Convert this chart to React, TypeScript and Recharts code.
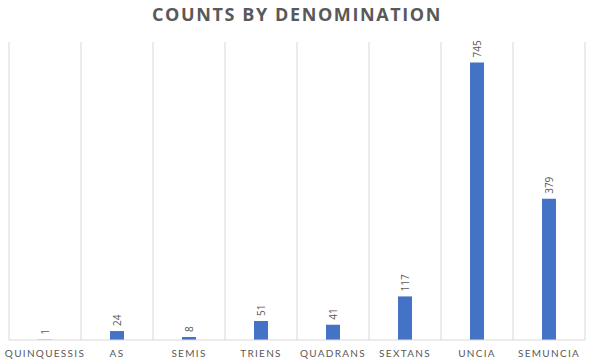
import React from "react";
import { BarChart, Bar, XAxis, YAxis, CartesianGrid, LabelList } from "recharts";

const categories = ["QUINQUESSIS", "AS", "SEMIS", "TRIENS", "QUADRANS", "SEXTANS", "UNCIA", "SEMUNCIA"];
const counts = [1, 24, 8, 51, 41, 117, 745, 379];

const data = categories.map((name, i) => ({ name, count: counts[i] }));

const FONT = "'Open Sans', 'Noto Sans', sans-serif";
const TICK_FONT = "Lato, 'Open Sans', sans-serif";

const RotatedLabel = (props: any) => {
  const { x, y, width, value } = props;
  const cx = x + width / 2;
  const ty = y - 5;
  return (
    <text
      x={cx}
      y={ty}
      transform={`rotate(-90 ${cx} ${ty})`}
      textAnchor="start"
      dominantBaseline="central"
      fontSize={10}
      fill="#595959"
      fontFamily={FONT}
    >
      {value}
    </text>
  );
};

export default function App() {
  return (
    <div style={{ position: "absolute", left: 0, top: 0, width: 594, height: 364, background: "#fff" }}>
      <div
        style={{
          position: "absolute",
          left: 0,
          top: 2,
          width: 594,
          textAlign: "center",
          fontFamily: FONT,
          fontWeight: 700,
          fontSize: 18,
          letterSpacing: 1.6,
          color: "#595959",
        }}
      >
        COUNTS BY DENOMINATION
      </div>
      <BarChart
        width={594}
        height={364}
        data={data}
        margin={{ top: 42, right: 9, left: 9, bottom: 0 }}
        barCategoryGap={0}
      >
        <CartesianGrid
          horizontal={false}
          stroke="#d9d9d9"
          verticalCoordinatesGenerator={({ offset }: any) =>
            Array.from({ length: categories.length + 1 }, (_, i) => offset.left + (i * offset.width) / categories.length)
          }
        />
        <YAxis hide domain={[0, 800]} />
        <XAxis
          dataKey="name"
          height={24}
          tickLine={false}
          axisLine={{ stroke: "#d9d9d9" }}
          interval={0}
          tick={{ fontSize: 10, fill: "#595959", fontFamily: TICK_FONT, letterSpacing: 1.3 } as any}
          tickMargin={4}
        />
        <Bar dataKey="count" fill="#4472C4" barSize={14} isAnimationActive={false}>
          <LabelList dataKey="count" content={<RotatedLabel />} />
        </Bar>
      </BarChart>
    </div>
  );
}
